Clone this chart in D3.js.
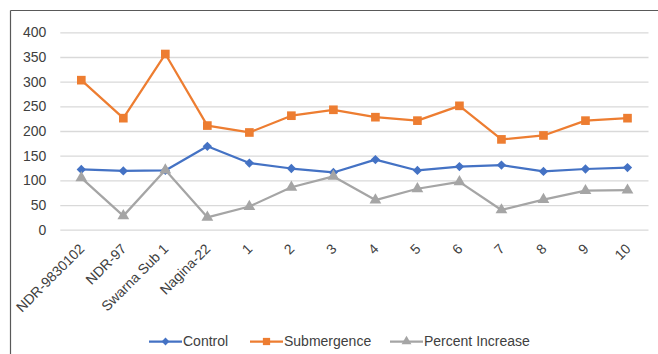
<!DOCTYPE html>
<html><head><meta charset="utf-8">
<script src="https://cdn.jsdelivr.net/npm/d3@7"></script>
<style>body{margin:0;background:#fff;} svg{display:block;font-family:"Liberation Sans",Arial,sans-serif;}</style>
</head><body>
<svg id="c" width="658" height="354"></svg>
<script>
const categories = ["NDR-9830102","NDR-97","Swarna Sub 1","Nagina-22","1","2","3","4","5","6","7","8","9","10"];
const control = [122,119,120,169,135,124,116,142,120,128,131,118,123,126];
const submergence = [303,226,356,211,197,231,243,228,221,251,183,191,221,226];
const percentIncrease = [105,28,121,25,47,86,108,60,83,97,40,61,79,80];
const yTicks = [0,50,100,150,200,250,300,350,400];
const seriesNames = ["Control","Submergence","Percent Increase"];

const svg = d3.select("#c");
const m = {l:60.3, r:648.5, t:32.3, b:229.7};
const x = d3.scaleBand().domain(categories).range([m.l, m.r]);
const y = d3.scaleLinear().domain([0,400]).range([m.b, m.t]);
const textColor = "#404040";

// frame
svg.append("line").attr("x1",10.5).attr("x2",658).attr("y1",10.5).attr("y2",10.5).attr("stroke","#595959").attr("stroke-width",1.2);
svg.append("line").attr("x1",10.5).attr("x2",10.5).attr("y1",10.5).attr("y2",354).attr("stroke","#595959").attr("stroke-width",1.2);

// grid
const yAxis = d3.axisLeft(y).tickValues(yTicks).tickSize(-(m.r-m.l)).tickPadding(14);
const gy = svg.append("g").attr("transform",`translate(${m.l},0)`).call(yAxis);
gy.select(".domain").remove();
gy.selectAll(".tick line").attr("stroke","#d9d9d9").attr("stroke-width",1.3);
gy.selectAll(".tick text").attr("fill",textColor).style("font-size","14px").attr("x",-14);

// x axis labels
const xAxis = d3.axisBottom(x).tickSize(0).tickPadding(0);
const gx = svg.append("g").attr("transform",`translate(0,${m.b})`).call(xAxis);
gx.select(".domain").remove();
gx.selectAll(".tick text")
  .attr("fill",textColor).style("font-size","14px")
  .attr("text-anchor","end").attr("dy",0).attr("y",0)
  .attr("transform","translate(4,20) rotate(-45)");

const colors = ["#4472C4","#ED7D31","#A5A5A5"];
const data = [control, submergence, percentIncrease];
const line = d3.line().x((d,i)=>x(categories[i])+x.bandwidth()/2).y(d=>y(d));
const symbols = [d3.symbolDiamond2, d3.symbolSquare, d3.symbolTriangle];
const sizes = [55, 75, 60];

data.forEach((vals,k)=>{
  svg.append("path").datum(vals).attr("d",line).attr("fill","none").attr("stroke",colors[k]).attr("stroke-width",2.25).attr("stroke-linejoin","round");
});
data.forEach((vals,k)=>{
  svg.append("g").selectAll("path").data(vals).join("path")
    .attr("d",d3.symbol().type(symbols[k]).size(sizes[k]))
    .attr("transform",(d,i)=>`translate(${x(categories[i])+x.bandwidth()/2},${y(d)})`)
    .attr("fill",colors[k]);
});

// legend
const legX = [149, 250, 390];
const legY = 341.5;
seriesNames.forEach((n,k)=>{
  const g = svg.append("g").attr("transform",`translate(${legX[k]},${legY})`);
  g.append("line").attr("x1",0).attr("x2",33).attr("stroke",colors[k]).attr("stroke-width",2.25);
  g.append("path").attr("d",d3.symbol().type(symbols[k]).size(sizes[k]*0.7)).attr("transform","translate(16.5,0)").attr("fill",colors[k]);
  g.append("text").attr("x",34).attr("y",0).attr("dy","0.35em").attr("fill",textColor).style("font-size","14px").text(n);
});
</script>
</body></html>
